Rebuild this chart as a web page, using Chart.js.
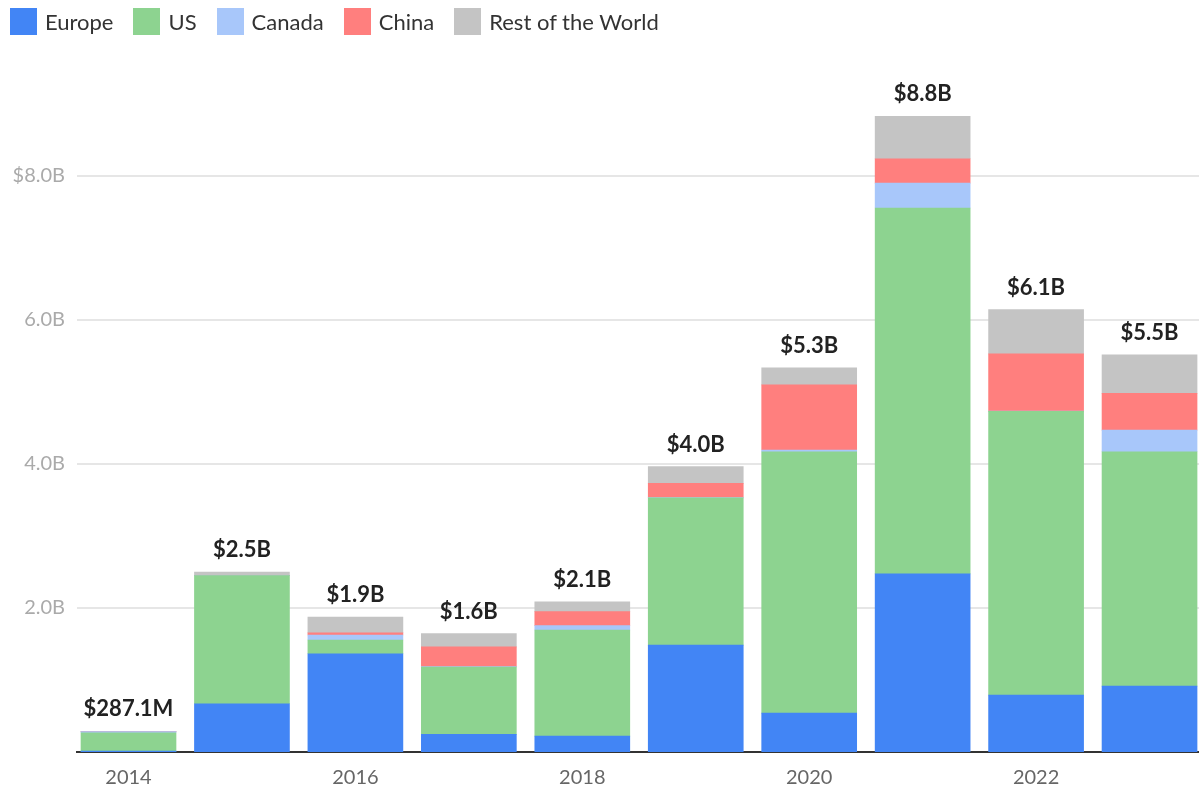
<!DOCTYPE html>
<html>
<head>
<meta charset="utf-8">
<script src="https://cdn.jsdelivr.net/npm/chart.js@4/dist/chart.umd.min.js"></script>
<style>
  html, body { margin: 0; padding: 0; background: #fff; overflow: hidden; }
  .wrap { position: relative; width: 1199px; height: 790px; }
  #legend { position: absolute; top: 8px; left: 10px; display: flex; gap: 20px; font-family: Lato, sans-serif; font-size: 22px; color: #333; }
  #legend .item { display: flex; align-items: center; gap: 8px; height: 27px; }
  #legend .box { width: 27px; height: 27px; }
</style>
</head>
<body>
<div class="wrap">
  <canvas id="chart" width="1199" height="790"></canvas>
  <div id="legend"></div>
</div>
<script>
// investment by region, in billions of dollars
const years   = [2014, 2015, 2016, 2017, 2018, 2019, 2020, 2021, 2022, 2023];
const europe  = [0.012, 0.67, 1.365, 0.245, 0.22, 1.485, 0.54, 2.475, 0.79, 0.915];
const us      = [0.255, 1.78, 0.19, 0.935, 1.475, 2.045, 3.63, 5.08, 3.94, 3.255];
const canada  = [0.015, 0, 0.07, 0.005, 0.06, 0.005, 0.025, 0.345, 0.005, 0.3];
const china   = [0.002, 0, 0.03, 0.275, 0.195, 0.195, 0.905, 0.34, 0.795, 0.51];
const rest    = [0.0031, 0.05, 0.22, 0.185, 0.135, 0.235, 0.235, 0.59, 0.615, 0.535];
const xTicks  = [2014, 2016, 2018, 2020, 2022];
const yTicks  = [2, 4, 6, 8];

const series = [
  { label: 'Europe',            values: europe, color: '#4285F5' },
  { label: 'US',                values: us,     color: '#8DD390' },
  { label: 'Canada',            values: canada, color: '#A8C7FA' },
  { label: 'China',             values: china,  color: '#FF7F7E' },
  { label: 'Rest of the World', values: rest,   color: '#C4C4C4' },
];

const fmtTotal = v => v < 1 ? '$' + (v * 1000).toFixed(1) + 'M' : '$' + v.toFixed(1) + 'B';

// legend
document.getElementById('legend').innerHTML = series.map(s =>
  `<div class="item"><div class="box" style="background:${s.color}"></div><span>${s.label}</span></div>`
).join('');

// totals above each stack
const totalLabels = {
  id: 'totalLabels',
  afterDatasetsDraw(chart) {
    const { ctx, scales: { x, y } } = chart;
    ctx.save();
    ctx.font = 'bold 22px Lato, sans-serif';
    ctx.fillStyle = '#222';
    ctx.textAlign = 'center';
    ctx.textBaseline = 'alphabetic';
    years.forEach((yr, i) => {
      const total = series.reduce((s, d) => s + d.values[i], 0);
      ctx.fillText(fmtTotal(total), x.getPixelForValue(yr), y.getPixelForValue(total) - 15);
    });
    ctx.restore();
  },
};

new Chart(document.getElementById('chart'), {
  type: 'bar',
  data: {
    datasets: series.map(s => ({
      label: s.label,
      data: years.map((yr, i) => ({ x: yr, y: s.values[i] })),
      backgroundColor: s.color,
      borderWidth: 0,
      barThickness: 95,
    })),
  },
  options: {
    responsive: false,
    animation: false,
    layout: { padding: { top: 104, left: 0, right: 0, bottom: 0 } },
    plugins: { legend: { display: false }, tooltip: { enabled: false } },
    scales: {
      x: {
        type: 'linear',
        stacked: true,
        offset: false,
        min: 2013.546,
        max: 2023.436,
        afterBuildTicks: sc => { sc.ticks = xTicks.map(v => ({ value: v })); },
        afterFit: sc => { sc.height = 38; },
        grid: { display: false, drawTicks: false },
        border: { display: true, color: '#333', width: 2 },
        ticks: { color: '#666', padding: 14, font: { family: 'Lato', size: 20 }, callback: v => String(v) },
      },
      y: {
        stacked: true,
        min: 0,
        max: 9,
        afterBuildTicks: sc => { sc.ticks = yTicks.map(v => ({ value: v })); },
        afterFit: sc => { sc.width = 77; },
        grid: { color: '#e6e6e6', lineWidth: 2, drawTicks: false },
        border: { display: false },
        ticks: {
          color: '#aaa', padding: 12, font: { family: 'Lato', size: 20 },
          callback: v => v === 8 ? '$8.0B' : v.toFixed(1) + 'B',
        },
      },
    },
  },
  plugins: [totalLabels],
});
</script>
</body>
</html>
